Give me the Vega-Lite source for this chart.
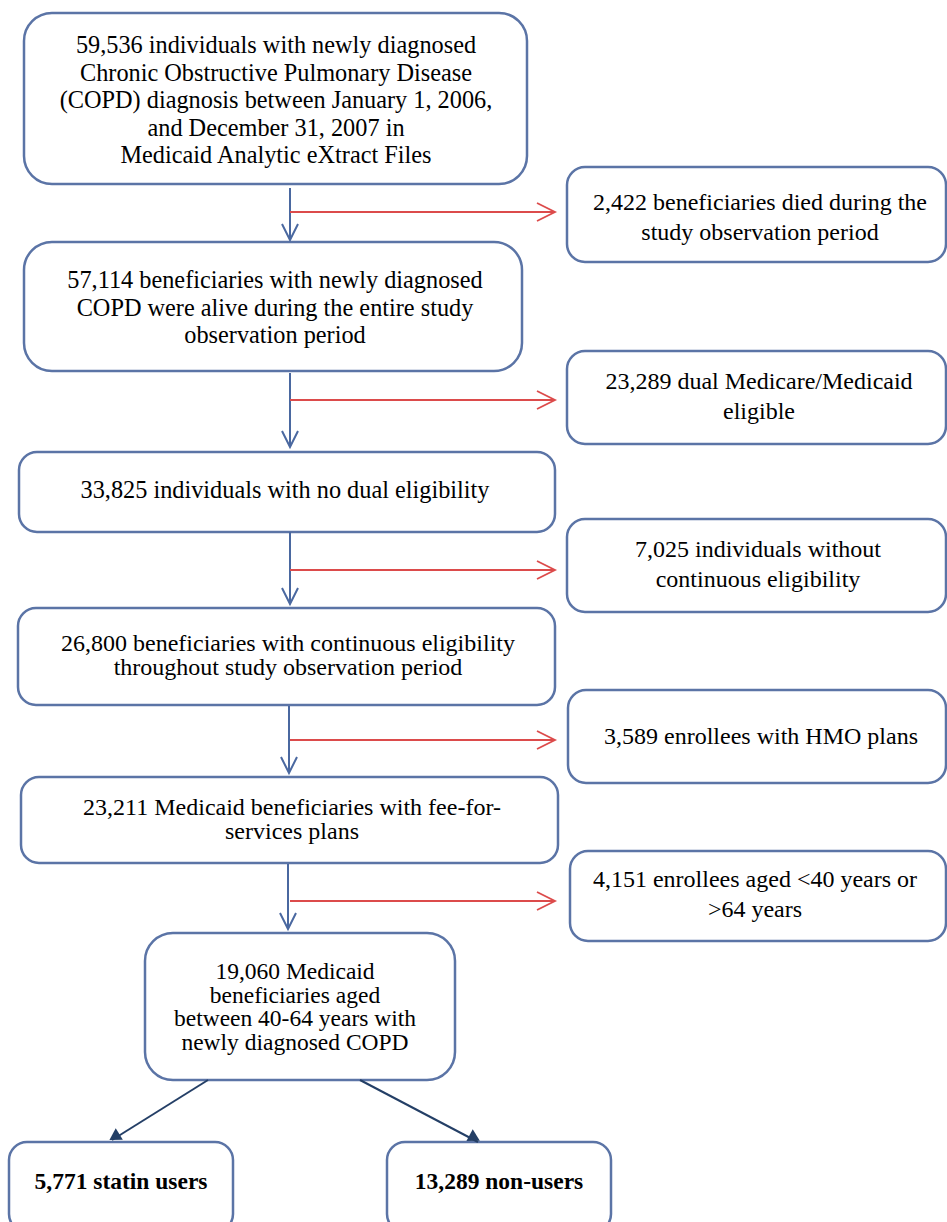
{
  "$schema": "https://vega.github.io/schema/vega-lite/v6.json",
  "width": 947,
  "height": 1222,
  "autosize": "none",
  "padding": 0,
  "background": "white",
  "config": {"view": {"stroke": null}},
  "datasets": {
    "bigBoxes": [
      {"id": "b1", "x1": 24, "x2": 527, "y1": 13, "y2": 184},
      {"id": "b2", "x1": 24, "x2": 522, "y1": 242, "y2": 371},
      {"id": "b6", "x1": 145, "x2": 455, "y1": 933, "y2": 1080}
    ],
    "boxes": [
      {"id": "s1", "x1": 567, "x2": 946, "y1": 167, "y2": 262},
      {"id": "s2", "x1": 567, "x2": 946, "y1": 351, "y2": 444},
      {"id": "b3", "x1": 19, "x2": 555, "y1": 452, "y2": 532},
      {"id": "s3", "x1": 567, "x2": 946, "y1": 519, "y2": 612},
      {"id": "b4", "x1": 18, "x2": 555, "y1": 608, "y2": 705},
      {"id": "s4", "x1": 568, "x2": 946, "y1": 690, "y2": 783},
      {"id": "b5", "x1": 21, "x2": 558, "y1": 777, "y2": 863},
      {"id": "s5", "x1": 570, "x2": 946, "y1": 851, "y2": 941},
      {"id": "b7", "x1": 9, "x2": 233, "y1": 1142, "y2": 1232},
      {"id": "b8", "x1": 387, "x2": 611, "y1": 1142, "y2": 1232}
    ],
    "downArrows": [
      {"x": 290, "y1": 188, "y2": 240},
      {"x": 290, "y1": 373, "y2": 447},
      {"x": 290, "y1": 532, "y2": 604},
      {"x": 289, "y1": 706, "y2": 773},
      {"x": 288, "y1": 864, "y2": 929}
    ],
    "sideArrows": [
      {"x1": 290, "x2": 555, "y": 212},
      {"x1": 290, "x2": 555, "y": 400},
      {"x1": 290, "x2": 555, "y": 570},
      {"x1": 290, "x2": 555, "y": 740},
      {"x1": 290, "x2": 555, "y": 901}
    ],
    "splitArrows": [
      {"x1": 208, "y1": 1080, "x2": 112, "y2": 1140, "hx": 116, "hy": 1136, "angle": 238},
      {"x1": 360, "y1": 1080, "x2": 478, "y2": 1142, "hx": 473, "hy": 1137, "angle": 118}
    ],
    "wideText": [
      {"x": 276, "y": 46, "label": "59,536 individuals with newly diagnosed\nChronic Obstructive Pulmonary Disease\n(COPD) diagnosis between January 1, 2006,\nand December 31, 2007 in\nMedicaid Analytic eXtract Files"},
      {"x": 275, "y": 281, "label": "57,114 beneficiaries with newly diagnosed\nCOPD were alive during the entire study\nobservation period"},
      {"x": 285, "y": 491, "label": "33,825 individuals with no dual eligibility"}
    ],
    "sideText": [
      {"x": 760, "y": 203, "label": "2,422 beneficiaries died during the\nstudy observation period"},
      {"x": 759, "y": 382, "label": "23,289 dual Medicare/Medicaid\neligible"},
      {"x": 758, "y": 550, "label": "7,025 individuals without\ncontinuous eligibility"},
      {"x": 761, "y": 737, "label": "3,589 enrollees with HMO plans"},
      {"x": 755, "y": 880, "label": "4,151 enrollees aged <40 years or\n>64 years"}
    ],
    "tightText": [
      {"x": 288, "y": 644, "label": "26,800 beneficiaries with continuous eligibility\nthroughout study observation period"},
      {"x": 292, "y": 808, "label": "23,211 Medicaid beneficiaries with fee-for-\nservices plans"}
    ],
    "box6Text": [
      {"x": 295, "y": 972, "label": "19,060 Medicaid\nbeneficiaries aged\nbetween 40-64 years with\nnewly diagnosed COPD"}
    ],
    "boldText": [
      {"x": 121, "y": 1182, "label": "5,771 statin users"},
      {"x": 499, "y": 1182, "label": "13,289 non-users"}
    ]
  },
  "layer": [
    {
      "data": {"name": "bigBoxes"},
      "mark": {"type": "rect", "cornerRadius": 28, "fill": "white", "stroke": "#5b74a6", "strokeWidth": 2.5},
      "encoding": {
        "x": {"field": "x1", "type": "quantitative", "scale": {"domain": [0, 947], "range": [0, 947], "nice": false, "zero": false}, "axis": null},
        "x2": {"field": "x2"},
        "y": {"field": "y1", "type": "quantitative", "scale": {"domain": [0, 1222], "range": [0, 1222], "nice": false, "zero": false}, "axis": null},
        "y2": {"field": "y2"}
      }
    },
    {
      "data": {"name": "boxes"},
      "mark": {"type": "rect", "cornerRadius": 18, "fill": "white", "stroke": "#5b74a6", "strokeWidth": 2.5},
      "encoding": {
        "x": {"field": "x1", "type": "quantitative"},
        "x2": {"field": "x2"},
        "y": {"field": "y1", "type": "quantitative"},
        "y2": {"field": "y2"}
      }
    },
    {
      "data": {"name": "downArrows"},
      "mark": {"type": "rule", "color": "#4a68a0", "strokeWidth": 2},
      "encoding": {
        "x": {"field": "x", "type": "quantitative"},
        "y": {"field": "y1", "type": "quantitative"},
        "y2": {"field": "y2"}
      }
    },
    {
      "data": {"name": "downArrows"},
      "mark": {"type": "point", "shape": "M-1,-2L0,0L1,-2", "filled": false, "stroke": "#4a68a0", "strokeWidth": 2, "size": 256, "opacity": 1},
      "encoding": {
        "x": {"field": "x", "type": "quantitative"},
        "y": {"field": "y2", "type": "quantitative"}
      }
    },
    {
      "data": {"name": "sideArrows"},
      "mark": {"type": "rule", "color": "#dc4b4b", "strokeWidth": 1.8},
      "encoding": {
        "x": {"field": "x1", "type": "quantitative"},
        "x2": {"field": "x2"},
        "y": {"field": "y", "type": "quantitative"}
      }
    },
    {
      "data": {"name": "sideArrows"},
      "mark": {"type": "point", "shape": "M-2,-1L0,0L-2,1", "filled": false, "stroke": "#dc4b4b", "strokeWidth": 1.8, "size": 324, "opacity": 1},
      "encoding": {
        "x": {"field": "x2", "type": "quantitative"},
        "y": {"field": "y", "type": "quantitative"}
      }
    },
    {
      "data": {"name": "splitArrows"},
      "mark": {"type": "rule", "color": "#243f66", "strokeWidth": 2},
      "encoding": {
        "x": {"field": "x1", "type": "quantitative"},
        "y": {"field": "y1", "type": "quantitative"},
        "x2": {"field": "x2"},
        "y2": {"field": "y2"}
      }
    },
    {
      "data": {"name": "splitArrows"},
      "mark": {"type": "point", "shape": "triangle", "filled": true, "color": "#243f66", "size": 180, "opacity": 1},
      "encoding": {
        "x": {"field": "hx", "type": "quantitative"},
        "y": {"field": "hy", "type": "quantitative"},
        "angle": {"field": "angle", "type": "quantitative", "scale": null}
      }
    },
    {
      "data": {"name": "wideText"},
      "mark": {"type": "text", "font": "Liberation Serif", "fontSize": 24.3, "lineHeight": 27.5, "lineBreak": "\n", "align": "center", "baseline": "middle", "color": "black"},
      "encoding": {
        "x": {"field": "x", "type": "quantitative"},
        "y": {"field": "y", "type": "quantitative"},
        "text": {"field": "label"}
      }
    },
    {
      "data": {"name": "sideText"},
      "mark": {"type": "text", "font": "Liberation Serif", "fontSize": 24, "lineHeight": 30, "lineBreak": "\n", "align": "center", "baseline": "middle", "color": "black"},
      "encoding": {
        "x": {"field": "x", "type": "quantitative"},
        "y": {"field": "y", "type": "quantitative"},
        "text": {"field": "label"}
      }
    },
    {
      "data": {"name": "tightText"},
      "mark": {"type": "text", "font": "Liberation Serif", "fontSize": 24, "lineHeight": 24, "lineBreak": "\n", "align": "center", "baseline": "middle", "color": "black"},
      "encoding": {
        "x": {"field": "x", "type": "quantitative"},
        "y": {"field": "y", "type": "quantitative"},
        "text": {"field": "label"}
      }
    },
    {
      "data": {"name": "box6Text"},
      "mark": {"type": "text", "font": "Liberation Serif", "fontSize": 23.5, "lineHeight": 23.6, "lineBreak": "\n", "align": "center", "baseline": "middle", "color": "black"},
      "encoding": {
        "x": {"field": "x", "type": "quantitative"},
        "y": {"field": "y", "type": "quantitative"},
        "text": {"field": "label"}
      }
    },
    {
      "data": {"name": "boldText"},
      "mark": {"type": "text", "font": "Liberation Serif", "fontSize": 23.5, "fontWeight": "bold", "align": "center", "baseline": "middle", "color": "black"},
      "encoding": {
        "x": {"field": "x", "type": "quantitative"},
        "y": {"field": "y", "type": "quantitative"},
        "text": {"field": "label"}
      }
    }
  ]
}
